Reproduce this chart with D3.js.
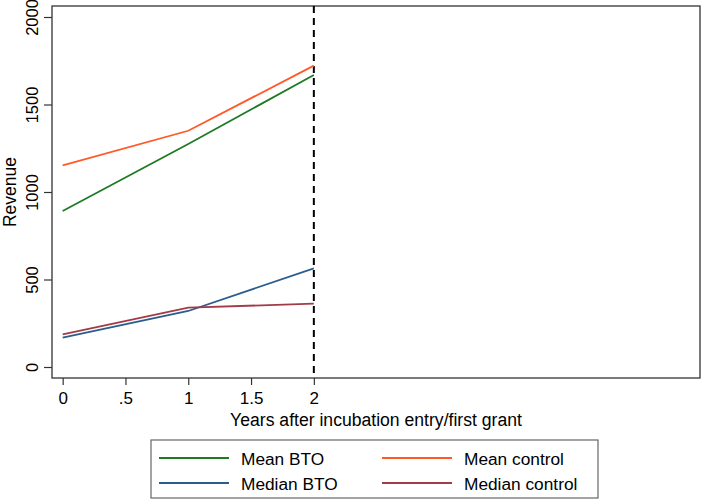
<!DOCTYPE html>
<html>
<head>
<meta charset="utf-8">
<script src="https://cdn.jsdelivr.net/npm/d3@7"></script>
<style>
  body { margin: 0; background: #fff; }
  svg text { font-family: "Liberation Sans", Arial, sans-serif; fill: #000; }
</style>
</head>
<body>
<div id="chart"></div>
<script>
const years = [0, 1, 2];
const meanBTO = [891, 1274, 1669];
const meanControl = [1152, 1350, 1722];
const medianBTO = [168, 320, 564];
const medianControl = [187, 339, 362];
const xTicks = [0, 0.5, 1, 1.5, 2];
const xTickLabels = ["0", ".5", "1", "1.5", "2"];
const yTicks = [0, 500, 1000, 1500, 2000];
const cutoff = 2;

const w = 703, h = 500;
const plotLeft = 52, plotRight = 700, plotTop = 6, plotBottom = 378;

const svg = d3.select("#chart").append("svg")
  .attr("width", w)
  .attr("height", h);

const xScale = d3.scaleLinear().domain([-0.085, 5.075]).range([plotLeft, plotRight]);
const yScale = d3.scaleLinear().domain([0, 2000]).range([367, 17]);

// plot frame
svg.append("rect")
  .attr("x", plotLeft).attr("y", plotTop)
  .attr("width", plotRight - plotLeft).attr("height", plotBottom - plotTop)
  .attr("fill", "none").attr("stroke", "#333").attr("stroke-width", 1.3);

const yAxis = d3.axisLeft(yScale).tickValues(yTicks).tickSize(8).tickFormat(d3.format("d"));
const gy = svg.append("g").attr("transform", `translate(${plotLeft},0)`).call(yAxis);
gy.select(".domain").remove();
gy.selectAll("line").attr("stroke", "#333").attr("stroke-width", 1.2);
gy.selectAll("text")
  .attr("font-size", 16.5)
  .attr("x", null).attr("dy", null)
  .attr("text-anchor", "middle")
  .attr("transform", "translate(-14,0) rotate(-90)");

const xAxis = d3.axisBottom(xScale).tickValues(xTicks).tickSize(7)
  .tickFormat((d, i) => xTickLabels[i]);
const gx = svg.append("g").attr("transform", `translate(0,${plotBottom})`).call(xAxis);
gx.select(".domain").remove();
gx.selectAll("line").attr("stroke", "#333").attr("stroke-width", 1.2);
gx.selectAll("text").attr("font-size", 17).attr("y", 26).attr("dy", null);

svg.append("text")
  .attr("text-anchor", "middle")
  .attr("transform", `translate(16,${(plotTop + plotBottom) / 2}) rotate(-90)`)
  .attr("font-size", 17.5)
  .text("Revenue");

svg.append("text")
  .attr("text-anchor", "middle")
  .attr("x", (plotLeft + plotRight) / 2).attr("y", 426)
  .attr("font-size", 17.6)
  .text("Years after incubation entry/first grant");

// dashed cutoff line
svg.append("line")
  .attr("x1", xScale(cutoff)).attr("x2", xScale(cutoff))
  .attr("y1", plotTop).attr("y2", plotBottom)
  .attr("stroke", "#000").attr("stroke-width", 2)
  .attr("stroke-dasharray", "7,5");

const series = [
  { name: "Mean BTO", values: meanBTO, color: "#1f7a24" },
  { name: "Mean control", values: meanControl, color: "#ff5a26" },
  { name: "Median BTO", values: medianBTO, color: "#2a5d8c" },
  { name: "Median control", values: medianControl, color: "#a23a48" }
];

const line = d3.line().x((d, i) => xScale(years[i])).y(d => yScale(d));

series.forEach(s => {
  svg.append("path")
    .datum(s.values)
    .attr("d", line)
    .attr("fill", "none")
    .attr("stroke", s.color)
    .attr("stroke-width", 1.8);
});

// legend
const legend = svg.append("g");
legend.append("rect")
  .attr("x", 151).attr("y", 440)
  .attr("width", 447).attr("height", 58)
  .attr("fill", "#fff").attr("stroke", "#666").attr("stroke-width", 1.2);

series.forEach((s, i) => {
  const col = i % 2, row = Math.floor(i / 2);
  const lx = 159 + col * 223;
  const ly = 458 + row * 25;
  legend.append("line")
    .attr("x1", lx).attr("x2", lx + 70)
    .attr("y1", ly).attr("y2", ly)
    .attr("stroke", s.color).attr("stroke-width", 1.8);
  legend.append("text")
    .attr("x", lx + 82).attr("y", ly + 6.5)
    .attr("font-size", 17.3)
    .text(s.name);
});
</script>
</body>
</html>
